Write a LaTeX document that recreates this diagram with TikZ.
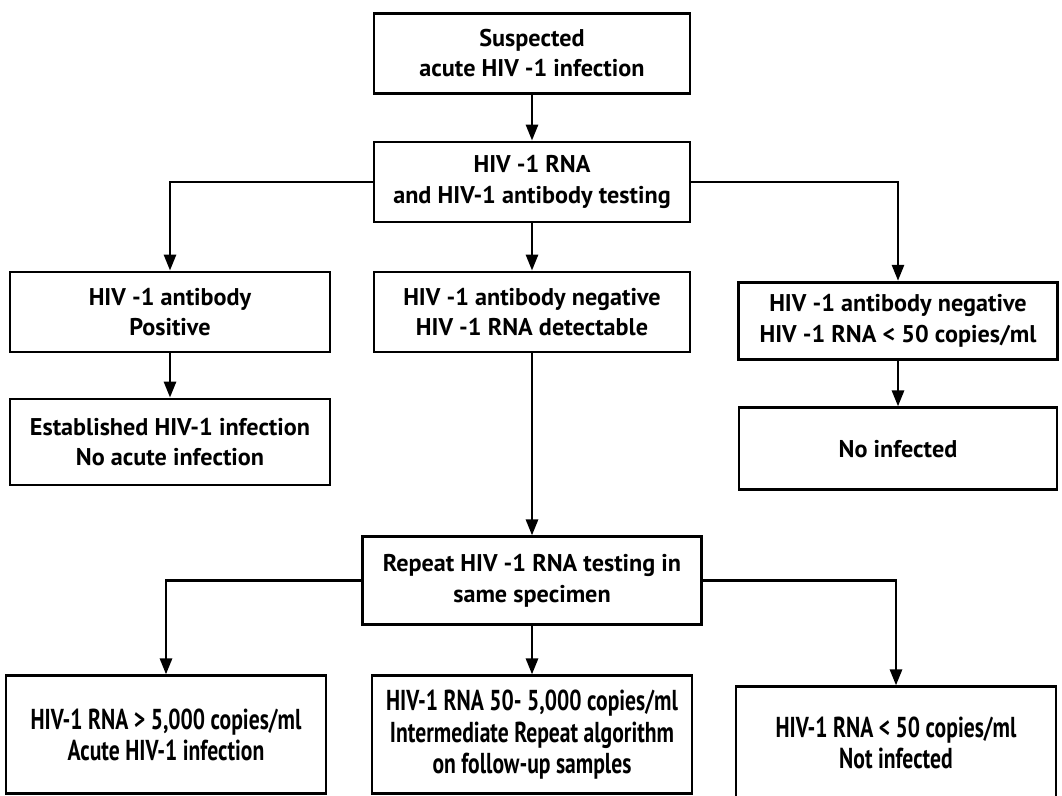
\documentclass[tikz,border=0pt]{standalone}
\usepackage{fontspec}
\setmainfont{PT Sans}
\newfontfamily\narrowfont[FakeStretch=0.75]{PT Sans}
\usetikzlibrary{arrows.meta, positioning}

\begin{document}
\begin{tikzpicture}[>={Triangle[length=4mm, width=3mm]}, line width=2pt,
    node distance = 3.25cm, on grid, auto,
    box/.style={draw, rectangle, align=center, minimum width=7.9cm, minimum height=2cm,
      font=\bfseries\fontsize{17.2}{21.5}\selectfont},
    lowbox/.style={box, minimum width=8cm, minimum height=2.95cm,
      font=\narrowfont\bfseries\fontsize{20.5}{22.5}\selectfont}]
  \clip (0,0) rectangle (26.55,-19.9);
  \node[box] (top) at (13.3,-1.33) {Suspected\\acute HIV -1 infection};
  \node[box] [below=3.22cm of top] (test) {HIV -1 RNA\\and HIV-1 antibody testing};
  \node[box] [below=of test] (negdet) {HIV -1 antibody negative\\HIV -1 RNA detectable};
  \node[box, minimum width=8cm] [left=9.05cm of negdet] (pos) {HIV -1 antibody\\Positive};
  \node[box, minimum width=7.98cm, minimum height=1.93cm] [right=9.15cm of negdet, yshift=-0.22cm] (neglow)
    {HIV -1 antibody negative\\HIV -1 RNA < 50 copies/ml};
  \node[box, minimum width=8cm, minimum height=2.15cm] [below=of pos] (estab)
    {Established HIV-1 infection\\No acute infection};
  \node[box, minimum width=7.95cm, minimum height=2.05cm] [below=3.2cm of neglow] (noinf) {No infected};
  \node[box, minimum width=8.48cm, minimum height=2.2cm] [below=6.72cm of negdet] (repeat)
    {Repeat HIV -1 RNA testing in\\same specimen};
  \node[lowbox] [below=3.85cm of repeat] (inter)
    {HIV-1 RNA 50- 5,000 copies/ml\\Intermediate Repeat algorithm\\on follow-up samples};
  \node[lowbox] [left=9.15cm of inter] (acute) {HIV-1 RNA > 5,000 copies/ml\\Acute HIV-1 infection};
  \node[lowbox, minimum height=2.8cm] [right=9.1cm of inter, yshift=-0.2cm] (notinf)
    {HIV-1 RNA < 50 copies/ml\\Not infected};
  \draw[->] (top) -- (test);
  \draw[->] (test) -- (negdet);
  \draw[->] (test.west) -| (pos.north);
  \draw[->] (test.east) -| (neglow.north);
  \draw[->] (pos) -- (estab);
  \draw[->] (neglow) -- (noinf);
  \draw[->] (negdet) -- (repeat);
  \draw[->] (repeat) -- (inter);
  \draw[->] (repeat.west) -| (acute.north);
  \draw[->] (repeat.east) -| (notinf.north);
\end{tikzpicture}
\end{document}
